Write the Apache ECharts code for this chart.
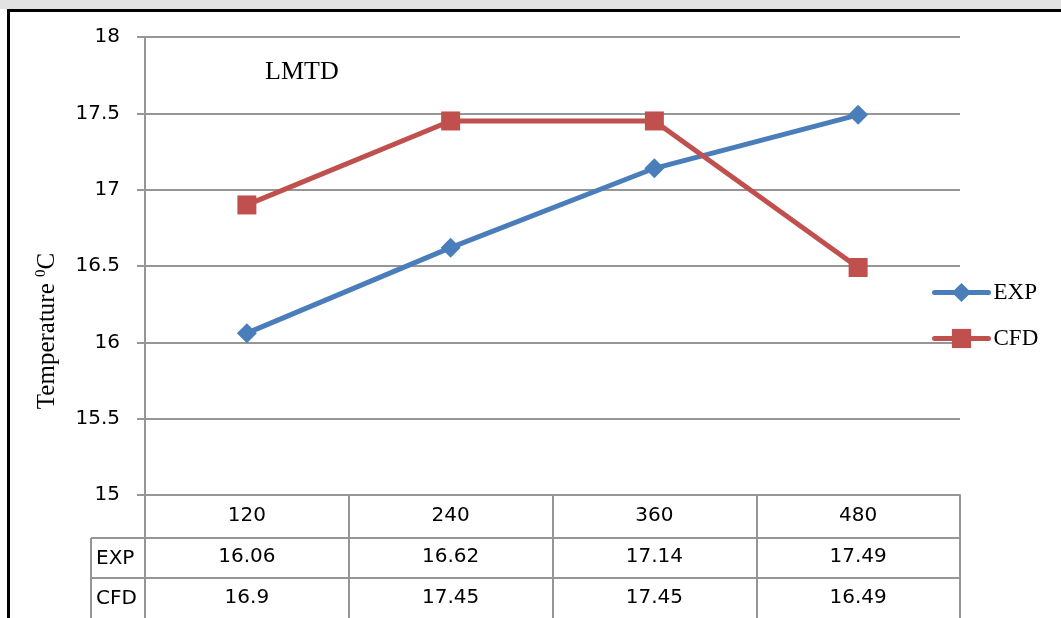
<!DOCTYPE html>
<html>
<head>
<meta charset="utf-8">
<script src="https://cdn.jsdelivr.net/npm/echarts@6/dist/echarts.min.js"></script>
<style>
  html, body { margin: 0; padding: 0; background: #fff; }
  #chart { width: 1061px; height: 618px; }
</style>
</head>
<body>
<div id="chart"></div>
<script>
const categories = ['120', '240', '360', '480']
const expValues = [16.06, 16.62, 17.14, 17.49]
const cfdValues = [16.9, 17.45, 17.45, 16.49]
const seriesNames = ['EXP', 'CFD']

const sans = 'DejaVu Sans'
const serif = 'Liberation Serif'
const gridColor = '#969696'
const blue = '#4A7EBB'
const red = '#C0504D'

const chart = echarts.init(document.getElementById('chart'))

// table rows under the axis: header column + row rules
const rowTop = [538, 578]
const tableGraphics = []
rowTop.forEach((y, i) => {
  tableGraphics.push({
    type: 'line',
    shape: { x1: 91, y1: y, x2: 960, y2: y },
    style: { stroke: gridColor, lineWidth: 2 },
  })
  tableGraphics.push({
    type: 'text',
    x: 96,
    y: y + 21,
    style: {
      text: seriesNames[i],
      font: `20px "${sans}"`,
      fill: '#000',
      verticalAlign: 'middle',
    },
  })
})
tableGraphics.push({
  type: 'line',
  shape: { x1: 91, y1: 538, x2: 91, y2: 618 },
  style: { stroke: gridColor, lineWidth: 2 },
})

chart.setOption({
  animation: false,
  backgroundColor: '#fff',
  title: {
    text: 'LMTD',
    left: 265,
    top: 59,
    padding: 0,
    textStyle: {
      fontFamily: serif,
      fontWeight: 'normal',
      fontSize: 26,
      color: '#000',
    },
  },
  legend: {
    data: seriesNames,
    orient: 'vertical',
    left: 927,
    top: 276,
    itemWidth: 54,
    itemHeight: 24,
    itemGap: 23,
    lineStyle: { width: 5, cap: 'round' },
    textStyle: {
      fontFamily: serif,
      fontSize: 23,
      color: '#000',
    },
  },
  grid: {
    left: 145,
    right: 101,
    top: 37,
    bottom: 121,
  },
  xAxis: {
    type: 'category',
    data: categories,
    boundaryGap: true,
    axisLine: { show: true, lineStyle: { color: gridColor, width: 2 } },
    axisTick: {
      show: true,
      interval: 0,
      length: 125,
      lineStyle: { color: gridColor, width: 2 },
    },
    axisLabel: {
      interval: 0,
      margin: 0,
      lineHeight: 41,
      fontFamily: sans,
      fontSize: 20,
      color: '#000',
      formatter: (value, index) => [value, expValues[index], cfdValues[index]].join('\n'),
    },
    splitLine: { show: false },
  },
  yAxis: {
    type: 'value',
    min: 15,
    max: 18,
    interval: 0.5,
    axisLine: { show: true, lineStyle: { color: gridColor, width: 2 } },
    axisTick: { show: true, length: 8, lineStyle: { color: gridColor, width: 2 } },
    axisLabel: {
      margin: 25,
      fontFamily: sans,
      fontSize: 20,
      color: '#000',
    },
    splitLine: { show: true, lineStyle: { color: gridColor, width: 2 } },
  },
  series: [
    {
      name: seriesNames[0],
      type: 'line',
      data: expValues,
      symbol: 'diamond',
      symbolSize: 20,
      color: blue,
      lineStyle: { width: 5 },
      emphasis: { disabled: true },
    },
    {
      name: seriesNames[1],
      type: 'line',
      data: cfdValues,
      symbol: 'rect',
      symbolSize: 19,
      color: red,
      lineStyle: { width: 5 },
      emphasis: { disabled: true },
    },
  ],
  graphic: [
    // faint strip above the frame
    { type: 'rect', shape: { x: 0, y: 0, width: 1061, height: 9 }, style: { fill: '#e2e2e2' }, silent: true },
    // black frame
    { type: 'rect', shape: { x: 7, y: 9, width: 1054, height: 3 }, style: { fill: '#000' } },
    { type: 'rect', shape: { x: 7, y: 9, width: 3, height: 609 }, style: { fill: '#000' } },
    {
      type: 'text',
      x: 47,
      y: 331,
      rotation: Math.PI / 2,
      style: {
        text: '{a|Temperature }{s|0}{a|C}',
        align: 'center',
        verticalAlign: 'middle',
        rich: {
          a: { fontFamily: serif, fontSize: 25, fill: '#000', lineHeight: 27 },
          s: { fontFamily: serif, fontSize: 15, fill: '#000', verticalAlign: 'top', lineHeight: 27 },
        },
      },
    },
    ...tableGraphics,
  ],
})
</script>
</body>
</html>
